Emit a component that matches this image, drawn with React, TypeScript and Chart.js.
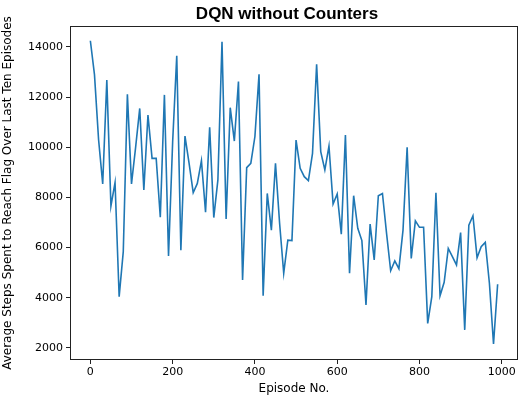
import React, { useEffect, useRef } from "react";
import { Chart, registerables } from "chart.js";

Chart.register(...registerables);

const episodes = [
  0, 10, 20, 30, 40, 50, 60, 70, 80, 90,
  100, 110, 120, 130, 140, 150, 160, 170, 180, 190,
  200, 210, 220, 230, 240, 250, 260, 270, 280, 290,
  300, 310, 320, 330, 340, 350, 360, 370, 380, 390,
  400, 410, 420, 430, 440, 450, 460, 470, 480, 490,
  500, 510, 520, 530, 540, 550, 560, 570, 580, 590,
  600, 610, 620, 630, 640, 650, 660, 670, 680, 690,
  700, 710, 720, 730, 740, 750, 760, 770, 780, 790,
  800, 810, 820, 830, 840, 850, 860, 870, 880, 890,
  900, 910, 920, 930, 940, 950, 960, 970, 980, 990,
];

const steps = [
  14250, 12900, 10300, 8540, 12680, 7660, 8590, 4045, 5840, 12110,
  8540, 10000, 11550, 8300, 11290, 9560, 9560, 7210, 12090, 5670,
  10200, 13650, 5900, 10450, 9360, 8190, 8560, 9470, 7410, 10800,
  7200, 8700, 14210, 7140, 11580, 10250, 12620, 4710, 9190, 9360,
  10430, 12910, 4080, 8160, 6700, 9360, 6970, 4980, 6300, 6280,
  10290, 9160, 8830, 8670, 9760, 13310, 9830, 9100, 10050, 7740,
  8140, 6540, 10490, 4980, 8070, 6770, 6280, 3710, 6940, 5510,
  8070, 8160, 6570, 5080, 5470, 5160, 6700, 10000, 5570, 7070,
  6810, 6810, 2980, 4045, 8190, 4080, 4620, 5970, 5640, 5310,
  6600, 2720, 6900, 7270, 5600, 6040, 6210, 4580, 2160, 4540,
];

const xTicks = [0, 200, 400, 600, 800, 1000];
const yTicks = [2000, 4000, 6000, 8000, 10000, 12000, 14000];

const titleText = "DQN without Counters";
const xLabel = "Episode No.";
const yLabel = "Average Steps Spent to Reach Flag Over Last Ten Episodes";

export default function App() {
  const ref = useRef<HTMLCanvasElement | null>(null);

  useEffect(() => {
    if (!ref.current) return;
    const frame = {
      id: "frame",
      afterDatasetsDraw(chart: any) {
        const { ctx, chartArea } = chart;
        ctx.save();
        ctx.strokeStyle = "#222";
        ctx.lineWidth = 1;
        ctx.strokeRect(
          Math.round(chartArea.left) + 0.5,
          Math.round(chartArea.top) + 0.5,
          Math.round(chartArea.right - chartArea.left) - 1,
          Math.round(chartArea.bottom - chartArea.top) - 1
        );
        ctx.restore();
      },
      afterDraw(chart: any) {
        const { ctx } = chart;
        ctx.save();
        ctx.fillStyle = "#000";
        ctx.font = "bold 17px 'Liberation Sans', Arial, sans-serif";
        ctx.textAlign = "center";
        ctx.textBaseline = "alphabetic";
        ctx.fillText(titleText, 287, 19);
        ctx.restore();
      },
    };

    const chart = new Chart(ref.current, {
      type: "line",
      data: {
        datasets: [
          {
            data: episodes.map((e, i) => ({ x: e, y: steps[i] })),
            borderColor: "#1f77b4",
            borderWidth: 1.6,
            pointRadius: 0,
            tension: 0,
            fill: false,
          },
        ],
      },
      options: {
        animation: false,
        responsive: false,
        devicePixelRatio: 1,
        layout: { padding: { left: 0, right: 2, top: 26, bottom: 0 } },
        plugins: {
          legend: { display: false },
          title: { display: false },
          tooltip: { enabled: false },
        },
        scales: {
          x: {
            type: "linear",
            min: -49.5,
            max: 1039.5,
            border: { display: false },
            grid: {
              display: true,
              drawOnChartArea: false,
              drawTicks: true,
              tickLength: 4,
              color: "#222",
            },
            ticks: {
              color: "#000",
              padding: 2,
              font: { family: "'DejaVu Sans'", size: 11 },
              maxRotation: 0,
              callback: (v: any) => String(v),
            },
            afterBuildTicks: (s: any) => {
              s.ticks = xTicks.map((v) => ({ value: v }));
            },
            afterFit: (s: any) => {
              s.height = 38;
            },
            title: {
              display: true,
              text: xLabel,
              color: "#000",
              font: { family: "'DejaVu Sans'", size: 12 },
              padding: { top: 0, bottom: 2 },
            },
          },
          y: {
            type: "linear",
            min: 1520,
            max: 14837,
            border: { display: false },
            grid: {
              display: true,
              drawOnChartArea: false,
              drawTicks: true,
              tickLength: 4,
              color: "#222",
            },
            ticks: {
              color: "#000",
              padding: 3,
              font: { family: "'DejaVu Sans'", size: 11 },
              callback: (v: any) => String(v),
            },
            afterBuildTicks: (s: any) => {
              s.ticks = yTicks.map((v) => ({ value: v }));
            },
            afterFit: (s: any) => {
              s.width = 70;
            },
            title: {
              display: true,
              text: yLabel,
              color: "#000",
              font: { family: "'DejaVu Sans'", size: 12 },
              padding: { top: 1, bottom: 0 },
            },
          },
        },
      },
      plugins: [frame],
    });
    return () => chart.destroy();
  }, []);

  return (
    <div style={{ position: "fixed", left: 0, top: 0, width: 520, height: 398, background: "#fff" }}>
      <canvas ref={ref} width={520} height={398} style={{ width: 520, height: 398 }} />
    </div>
  );
}
